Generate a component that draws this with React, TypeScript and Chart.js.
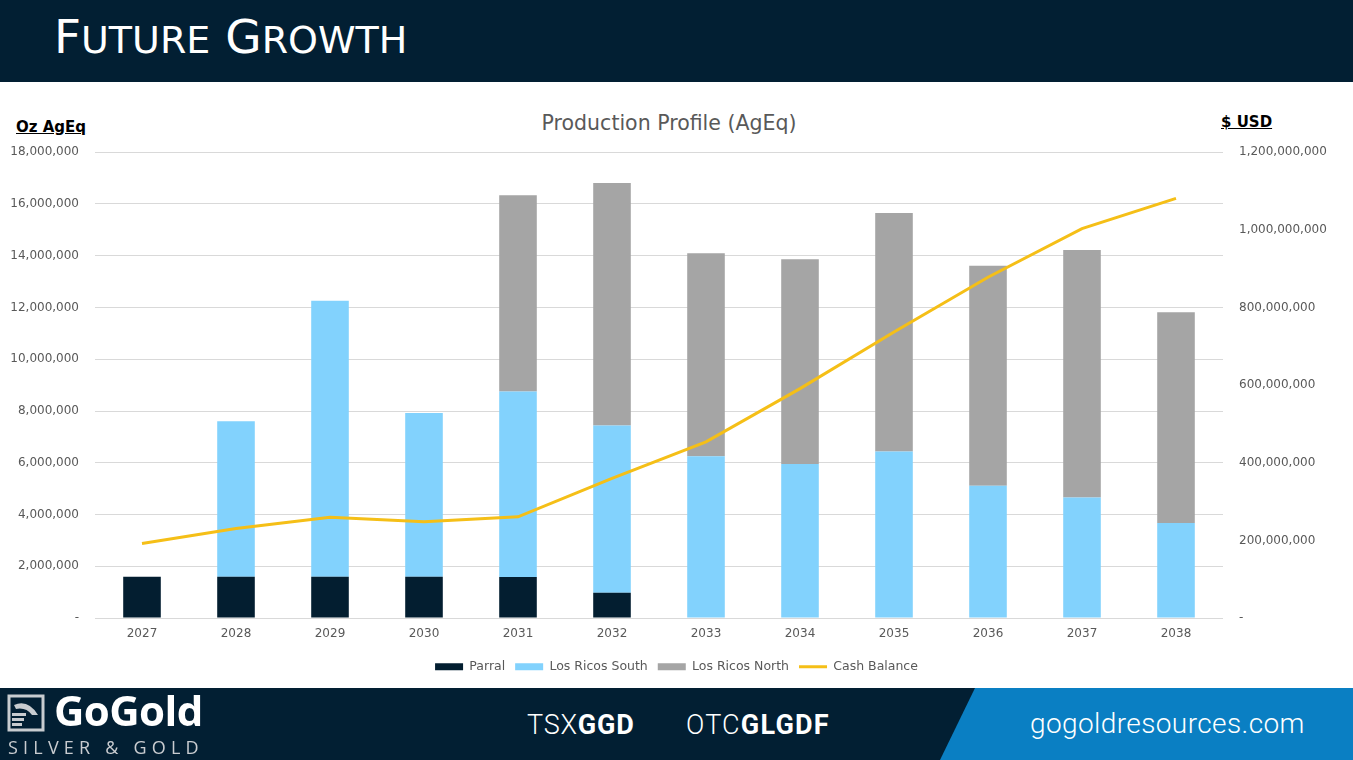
import React, { useEffect, useRef } from "react";
import { Chart, registerables } from "chart.js";

Chart.register(...registerables);

const years = ["2027", "2028", "2029", "2030", "2031", "2032", "2033", "2034", "2035", "2036", "2037", "2038"];
const parral = [1600000, 1600000, 1600000, 1600000, 1590000, 980000, 0, 0, 0, 0, 0, 0];
const losRicosSouth = [0, 6010000, 10660000, 6320000, 7160000, 6460000, 6250000, 5950000, 6440000, 5110000, 4660000, 3670000];
const losRicosNorth = [0, 0, 0, 0, 7590000, 9370000, 7850000, 7910000, 9210000, 8500000, 9560000, 8150000];
const cashBalance = [192000000, 231000000, 260000000, 248000000, 261000000, 360000000, 454000000, 591000000, 737000000, 878000000, 1003000000, 1081000000];

const FONT = "'DejaVu Sans', 'Noto Sans', sans-serif";
const NAVY = "#021f33";
const GRAY = "#595959";

function fmt(v: number) {
  return v === 0 ? "-" : Number(v).toLocaleString("en-US");
}

function ProductionChart() {
  const ref = useRef<HTMLCanvasElement | null>(null);
  useEffect(() => {
    if (!ref.current) return;
    const chart = new Chart(ref.current, {
      type: "bar",
      data: {
        labels: years,
        datasets: [
          { type: "bar", label: "Parral", data: parral, backgroundColor: "#031e30", stack: "s", yAxisID: "y", order: 2, barPercentage: 0.4, categoryPercentage: 1 },
          { type: "bar", label: "Los Ricos South", data: losRicosSouth, backgroundColor: "#82d2fd", stack: "s", yAxisID: "y", order: 2, barPercentage: 0.4, categoryPercentage: 1 },
          { type: "bar", label: "Los Ricos North", data: losRicosNorth, backgroundColor: "#a5a5a5", stack: "s", yAxisID: "y", order: 2, barPercentage: 0.4, categoryPercentage: 1 },
          { type: "line", label: "Cash Balance", data: cashBalance, borderColor: "#f5bf17", backgroundColor: "#f5bf17", borderWidth: 3, pointRadius: 0, tension: 0, yAxisID: "y1", order: 0 } as any,
        ],
      },
      options: {
        animation: false,
        responsive: false,
        maintainAspectRatio: false,
        layout: { padding: { top: 12, bottom: 4, left: 0, right: 0 } },
        plugins: {
          title: { display: false },
          tooltip: { enabled: false },
          legend: {
            position: "bottom",
            labels: {
              usePointStyle: true,
              pointStyleWidth: 28,
              boxHeight: 7,
              padding: 10,
              color: GRAY,
              font: { family: FONT, size: 12.5 },
              generateLabels: (c: any) =>
                c.data.datasets.map((d: any, i: number) => ({
                  text: d.label,
                  fillStyle: d.type === "line" ? d.borderColor : d.backgroundColor,
                  strokeStyle: d.type === "line" ? d.borderColor : d.backgroundColor,
                  lineWidth: d.type === "line" ? 3 : 0,
                  pointStyle: d.type === "line" ? "line" : "rect",
                  fontColor: GRAY,
                  datasetIndex: i,
                  hidden: false,
                })),
            },
          },
        },
        scales: {
          x: {
            stacked: true,
            grid: { display: false, drawTicks: false },
            border: { display: false },
            ticks: { color: GRAY, font: { family: FONT, size: 12 }, padding: 9 },
          },
          y: {
            stacked: true,
            position: "left",
            min: 0,
            max: 18000000,
            ticks: { stepSize: 2000000, color: GRAY, font: { family: FONT, size: 12 }, padding: 16, callback: (v: any) => fmt(v) },
            grid: { color: "#d9d9d9", lineWidth: 1, drawTicks: false },
            border: { display: false },
            afterFit: (s: any) => { s.width = 95; },
          },
          y1: {
            position: "right",
            min: 0,
            max: 1200000000,
            ticks: { stepSize: 200000000, color: GRAY, font: { family: FONT, size: 12 }, padding: 16, callback: (v: any) => fmt(v) },
            grid: { drawOnChartArea: false, drawTicks: false, display: false },
            border: { display: false },
            afterFit: (s: any) => { s.width = 130; },
          },
        },
      } as any,
    });
    return () => chart.destroy();
  }, []);
  return <canvas ref={ref} width={1353} height={558} style={{ position: "absolute", left: 0, top: 129, width: 1353, height: 558 }} />;
}

function Logo() {
  return (
    <div style={{ position: "absolute", left: 0, top: 688, width: 230, height: 72 }}>
      <svg width="40" height="40" viewBox="0 0 40 40" style={{ position: "absolute", left: 6, top: 5 }}>
        <rect x="3" y="3" width="34" height="34" fill="none" stroke="#c8ccd0" strokeWidth="3" />
        <path d="M8 12 Q22 6 32 22 L26 22 Q20 14 10 16 Z" fill="#c8ccd0" />
        <rect x="6" y="20" width="14" height="3" fill="#c8ccd0" />
        <rect x="6" y="25" width="12" height="3" fill="#c8ccd0" />
        <rect x="6" y="30" width="10" height="3" fill="#c8ccd0" />
      </svg>
      <div style={{ position: "absolute", left: 54, top: -2, fontFamily: "'Open Sans', sans-serif", fontWeight: 700, fontSize: 42, color: "#ffffff", lineHeight: "48px", letterSpacing: -0.6 }}>GoGold</div>
      <div style={{ position: "absolute", left: 8, top: 48, fontFamily: "'Open Sans', sans-serif", fontWeight: 400, fontSize: 18, color: "#c9ccd0", lineHeight: "22px", letterSpacing: 5.2 }}>SILVER &amp; GOLD</div>
    </div>
  );
}

export default function App() {
  const big = { fontSize: 47 };
  const small = { fontSize: 38 };
  return (
    <div style={{ position: "fixed", left: 0, top: 0, width: 1353, height: 760, background: "#ffffff", overflow: "hidden", fontFamily: FONT }}>
      <div style={{ position: "absolute", left: 0, top: 0, width: 1353, height: 82, background: NAVY }}>
        <div style={{ position: "absolute", left: 54, top: 7, fontFamily: FONT, lineHeight: "60px", color: "#ffffff", whiteSpace: "nowrap" }}>
          <span style={big}>F</span><span style={small}>UTURE</span><span style={big}> G</span><span style={small}>ROWTH</span>
        </div>
      </div>
      <div style={{ position: "absolute", left: 0, top: 110, width: 1338, textAlign: "center", fontSize: 20.5, lineHeight: "26px", color: GRAY }}>Production Profile (AgEq)</div>
      <div style={{ position: "absolute", left: 16, top: 116.5, fontSize: 15, fontWeight: 700, textDecoration: "underline", color: "#000", lineHeight: "20px" }}>Oz AgEq</div>
      <div style={{ position: "absolute", left: 1221, top: 111.5, fontSize: 15, fontWeight: 700, textDecoration: "underline", color: "#000", lineHeight: "20px" }}>$ USD</div>
      <ProductionChart />
      <div style={{ position: "absolute", left: 0, top: 688, width: 1353, height: 72, background: NAVY }}>
        <svg width="1353" height="72" style={{ position: "absolute", left: 0, top: 0 }}>
          <polygon points="975,0 1353,0 1353,72 940,72" fill="#0a7fc3" />
        </svg>
        <div style={{ position: "absolute", left: 527, top: 20, fontFamily: "Roboto, sans-serif", fontSize: 27, lineHeight: "34px", color: "#fff", letterSpacing: 0.8 }}>
          <span style={{ fontWeight: 300 }}>TSX</span><span style={{ fontWeight: 700 }}>GGD</span>
        </div>
        <div style={{ position: "absolute", left: 686, top: 20, fontFamily: "Roboto, sans-serif", fontSize: 27, lineHeight: "34px", color: "#fff", letterSpacing: 1.2 }}>
          <span style={{ fontWeight: 300 }}>OTC</span><span style={{ fontWeight: 700 }}>GLGDF</span>
        </div>
        <div style={{ position: "absolute", left: 1030, top: 19, fontFamily: "Roboto, sans-serif", fontSize: 28, lineHeight: "34px", color: "#fff", fontWeight: 300, letterSpacing: 0.4 }}>gogoldresources.com</div>
      </div>
      <Logo />
    </div>
  );
}
